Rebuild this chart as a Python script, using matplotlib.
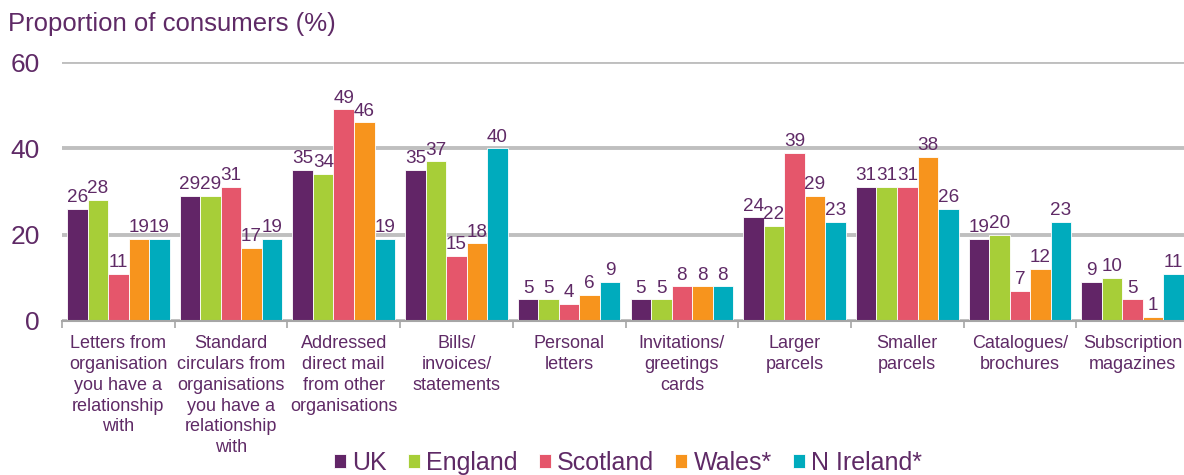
import matplotlib
matplotlib.use("Agg")
import matplotlib.pyplot as plt
import numpy as np

categories = [
    "Letters from\norganisation\nyou have a\nrelationship\nwith",
    "Standard\ncirculars from\norganisations\nyou have a\nrelationship\nwith",
    "Addressed\ndirect mail\nfrom other\norganisations",
    "Bills/\ninvoices/\nstatements",
    "Personal\nletters",
    "Invitations/\ngreetings\ncards",
    "Larger\nparcels",
    "Smaller\nparcels",
    "Catalogues/\nbrochures",
    "Subscription\nmagazines",
]
series_names = ["UK", "England", "Scotland", "Wales*", "N Ireland*"]
uk = [26, 29, 35, 35, 5, 5, 24, 31, 19, 9]
england = [28, 29, 34, 37, 5, 5, 22, 31, 20, 10]
scotland = [11, 31, 49, 15, 4, 8, 39, 31, 7, 5]
wales = [19, 17, 46, 18, 6, 8, 29, 38, 12, 1]
nireland = [19, 19, 19, 40, 9, 8, 23, 26, 23, 11]
yticks = [0, 20, 40, 60]

series = [uk, england, scotland, wales, nireland]
colors = ["#622567", "#A7CE38", "#E5566B", "#F7941D", "#00ABBD"]
txt = "#5F2A66"

plt.rcParams["font.family"] = ["Liberation Sans", "DejaVu Sans"]

fig = plt.figure(figsize=(11.84, 4.75), dpi=100)
ax = fig.add_axes([62/1184, 1-321/475, 1127/1184, (321-62)/475])

n = len(categories)
x = np.arange(n)
bw = 0.182
offsets = (np.arange(5) - 2) * bw
for i, (vals, c, name) in enumerate(zip(series, colors, series_names)):
    ax.bar(x + offsets[i], vals, width=bw, color=c, edgecolor="white",
           linewidth=0.6, label=name, zorder=3)
    for xi, v in zip(x + offsets[i], vals):
        ax.annotate(str(v), (xi, v), xytext=(0, 2), textcoords="offset points",
                    ha="center", va="bottom", fontsize=13.6, color=txt, zorder=4,
                    annotation_clip=False)

ax.set_xlim(-0.5, n - 0.5)
ax.set_ylim(0, 60)
ax.set_yticks(yticks)
ax.yaxis.grid(True, color="#BFBFBF", linewidth=2.8, zorder=0)
ax.set_axisbelow(True)
ax.tick_params(axis="y", length=0, pad=16, labelsize=19, labelcolor=txt)

ax.set_xticks(x)
ax.set_xticklabels(categories, fontsize=13, color=txt, linespacing=1.3)
ax.tick_params(axis="x", which="major", length=0, pad=10)
ax.set_xticks(np.arange(n + 1) - 0.5, minor=True)
ax.tick_params(axis="x", which="minor", length=5, width=1.2, color="#A6A6A6")

for s in ["top", "right", "left"]:
    ax.spines[s].set_visible(False)
ax.spines["bottom"].set_color("#A6A6A6")
ax.spines["bottom"].set_linewidth(1.5)
ax.spines["bottom"].set_zorder(5)

fig.text(8/1184, 1-24/475, "Proportion of consumers (%)", fontsize=18.5,
         color=txt, ha="left", va="center")

leg = fig.legend(loc="center", bbox_to_anchor=(628/1184, 1-463/475), ncol=5,
                 frameon=False, fontsize=18, handlelength=0.48, handleheight=0.48,
                 handletextpad=0.25, columnspacing=0.85, borderaxespad=0)
for t in leg.get_texts():
    t.set_color(txt)

fig.savefig("out.png", dpi=100)
